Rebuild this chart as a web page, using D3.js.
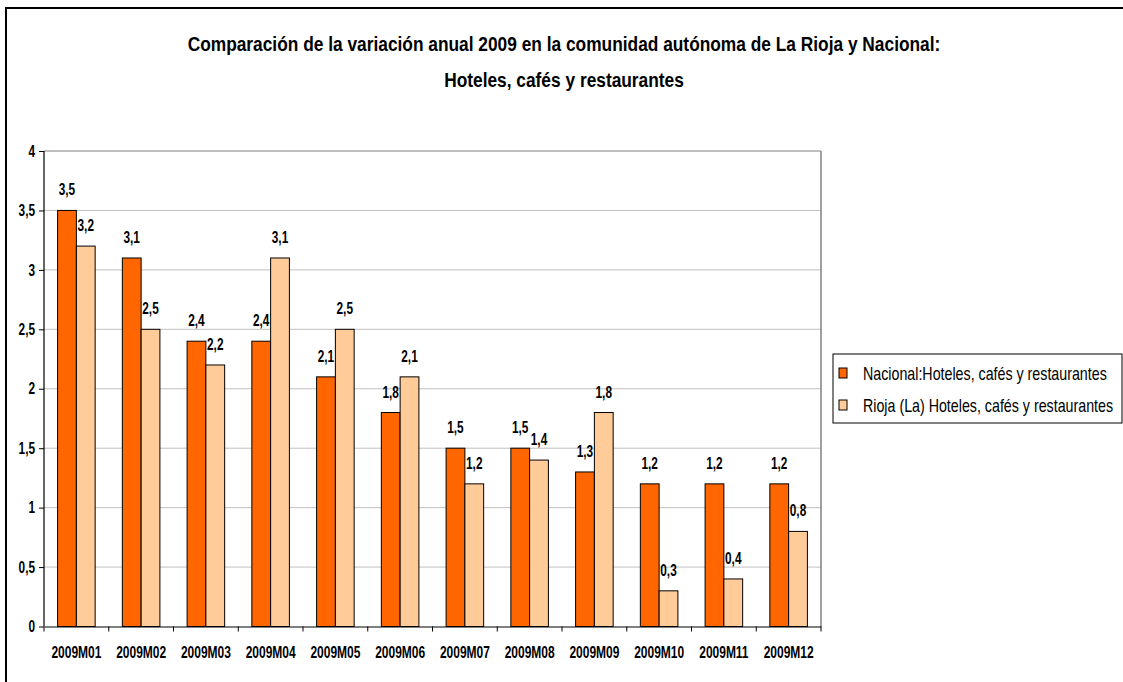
<!DOCTYPE html>
<html>
<head>
<meta charset="utf-8">
<script src="https://cdn.jsdelivr.net/npm/d3@7"></script>
<style>
  html, body { margin: 0; padding: 0; background: #fff; }
  svg { display: block; font-family: Arial, "Liberation Sans", sans-serif; }
</style>
</head>
<body>
<svg id="chart" width="1123" height="682"></svg>
<script>
// Monthly categories and annual variation (%) for both series
const months = ["2009M01","2009M02","2009M03","2009M04","2009M05","2009M06",
                "2009M07","2009M08","2009M09","2009M10","2009M11","2009M12"];
const nacional = [3.5, 3.1, 2.4, 2.4, 2.1, 1.8, 1.5, 1.5, 1.3, 1.2, 1.2, 1.2];
const rioja    = [3.2, 2.5, 2.2, 3.1, 2.5, 2.1, 1.2, 1.4, 1.8, 0.3, 0.4, 0.8];
const seriesNames = ["Nacional:Hoteles, cafés y restaurantes",
                     "Rioja (La) Hoteles, cafés y restaurantes"];
const yTicks = [0, 0.5, 1, 1.5, 2, 2.5, 3, 3.5, 4];
const titleLines = ["Comparación de la variación anual 2009 en la comunidad autónoma de La Rioja y Nacional:",
                    "Hoteles, cafés y restaurantes"];
const colors = ["#FF6600", "#FFCC99"];

const svg = d3.select("#chart");
const fmt = v => String(v).replace(".", ",");

// Narrow the rendered text horizontally around its anchor point (condensed look)
function squeeze(sel, k) {
  sel.each(function () {
    const ax = +(this.getAttribute("x") || 0);
    d3.select(this).attr("transform", `translate(${ax},0) scale(${k},1) translate(${-ax},0)`);
  });
}

// Outer frame
svg.append("path")
  .attr("d", "M6,682 V8 H1123")
  .attr("fill", "none").attr("stroke", "#000").attr("stroke-width", 2);

// Title
const title = svg.append("g").selectAll("text").data(titleLines).join("text")
  .attr("x", 564).attr("y", (d, i) => 51 + i * 36)
  .attr("text-anchor", "middle")
  .attr("font-size", 20).attr("font-weight", "bold").attr("fill", "#000")
  .text(d => d);
const t0 = title.node().getComputedTextLength();
squeeze(title, 753 / t0);

// Plot area geometry
const pLeft = 44, pRight = 821, pTop = 151, pBottom = 626.5;
const x = d3.scaleBand().domain(months).range([pLeft, pRight]).padding(0);
const y = d3.scaleLinear().domain([0, 4]).range([pBottom, pTop]);
const bw = x.bandwidth() * 0.29;

// Gridlines
svg.append("g").selectAll("line").data(yTicks.filter(t => t > 0)).join("line")
  .attr("x1", pLeft).attr("x2", pRight)
  .attr("y1", d => y(d)).attr("y2", d => y(d))
  .attr("stroke", d => d === 4 ? "#808080" : "#c0c0c0").attr("stroke-width", 1);
svg.append("line")
  .attr("x1", pRight).attr("x2", pRight).attr("y1", pTop).attr("y2", pBottom)
  .attr("stroke", "#808080").attr("stroke-width", 1.5);

// Bars and value labels
[nacional, rioja].forEach((vals, s) => {
  svg.append("g").selectAll("rect").data(months).join("rect")
    .attr("x", m => x(m) + x.bandwidth() / 2 - bw + s * bw)
    .attr("y", (m, i) => y(vals[i]))
    .attr("width", bw)
    .attr("height", (m, i) => y(0) - y(vals[i]))
    .attr("fill", colors[s]).attr("stroke", "#000").attr("stroke-width", 1);
  const lbl = svg.append("g").selectAll("text").data(months).join("text")
    .attr("x", m => x(m) + x.bandwidth() / 2 - bw / 2 + s * bw)
    .attr("y", (m, i) => y(vals[i]) - 15)
    .attr("text-anchor", "middle")
    .attr("font-size", 16).attr("font-weight", "bold").attr("fill", "#000")
    .text((m, i) => fmt(vals[i]));
  squeeze(lbl, 0.74);
});

// Y axis
const yAxis = svg.append("g").attr("transform", `translate(${pLeft},0)`)
  .call(d3.axisLeft(y).tickValues(yTicks).tickSize(5).tickPadding(4).tickFormat(fmt));
yAxis.select(".domain").attr("stroke", "#000").attr("stroke-width", 1.2)
  .attr("d", `M0,${pTop}V${pBottom}`);
yAxis.selectAll(".tick line").attr("stroke", "#000");
yAxis.selectAll(".tick text")
  .attr("font-size", 16).attr("font-weight", "bold").attr("fill", "#000")
  .attr("font-family", "Arial, 'Liberation Sans', sans-serif");
squeeze(yAxis.selectAll(".tick text"), 0.74);

// X axis
const xAxis = svg.append("g").attr("transform", `translate(0,${pBottom})`)
  .call(d3.axisBottom(x).tickSize(0).tickPadding(20));
xAxis.select(".domain").attr("stroke", "#000").attr("stroke-width", 1.2);
xAxis.selectAll(".tick text")
  .attr("font-size", 16).attr("font-weight", "bold").attr("fill", "#000")
  .attr("font-family", "Arial, 'Liberation Sans', sans-serif");
squeeze(xAxis.selectAll(".tick text"), 0.75);
// Tick marks on category boundaries
xAxis.append("g").selectAll("line").data(d3.range(months.length + 1)).join("line")
  .attr("x1", i => pLeft + i * x.step()).attr("x2", i => pLeft + i * x.step())
  .attr("y1", 0).attr("y2", 5)
  .attr("stroke", "#000").attr("stroke-width", 1);

// Legend
const legend = svg.append("g");
legend.append("rect")
  .attr("x", 833).attr("y", 354).attr("width", 289).attr("height", 69)
  .attr("fill", "#fff").attr("stroke", "#000").attr("stroke-width", 1);
const items = legend.selectAll("g").data(seriesNames).join("g")
  .attr("transform", (d, i) => `translate(0,${373 + i * 32})`);
items.append("rect")
  .attr("x", 839).attr("y", -5).attr("width", 8).attr("height", 10)
  .attr("fill", (d, i) => colors[i]).attr("stroke", "#000").attr("stroke-width", 1);
const ltxt = items.append("text")
  .attr("x", 863).attr("y", 6.5)
  .attr("font-size", 18).attr("fill", "#000")
  .text(d => d);
const l0 = ltxt.node().getComputedTextLength();
squeeze(ltxt, 244 / l0);
</script>
</body>
</html>
